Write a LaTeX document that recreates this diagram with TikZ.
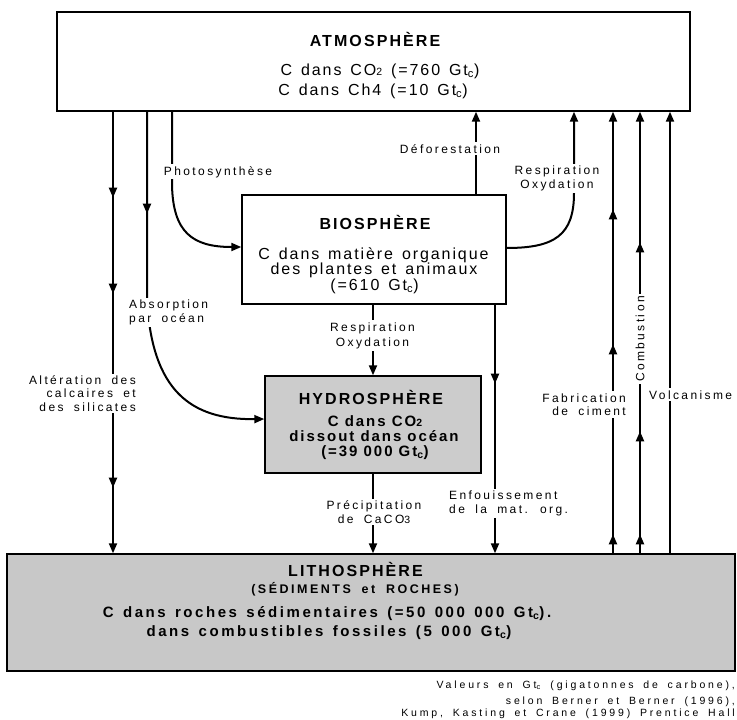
\documentclass[tikz,border=0pt]{standalone}
\usepackage{fontspec}
\setmainfont{Liberation Sans}
\newfontfamily\boxfont[LetterSpace=12,WordSpace=1.4]{Liberation Sans}
\newfontfamily\boxbfont[LetterSpace=13,WordSpace=1.4]{Liberation Sans}
\newfontfamily\litfont[LetterSpace=17,WordSpace=1.4]{Liberation Sans}
\newfontfamily\ttlfont[LetterSpace=13]{Liberation Sans}
\newfontfamily\subfont[LetterSpace=20,WordSpace=1.5]{Liberation Sans}
\newfontfamily\labfont[LetterSpace=20,WordSpace=1.8]{Liberation Sans}
\newfontfamily\capfont[LetterSpace=27,WordSpace=1.7]{Liberation Sans}
\usetikzlibrary{arrows.meta,decorations.markings}
\definecolor{hydgray}{RGB}{204,204,204}
\definecolor{litgray}{RGB}{200,200,200}
\newcommand{\smd}[1]{{\fontsize{10.5}{10}\selectfont #1}}
\tikzset{
  box/.style={draw=black, line width=1.4pt, inner sep=0pt},
  ttl/.style={anchor=base, inner sep=0pt, font=\ttlfont\bfseries\fontsize{16}{18}\selectfont},
  subttl/.style={anchor=base, inner sep=0pt, font=\subfont\bfseries\fontsize{12.5}{14}\selectfont},
  txt/.style={anchor=base, inner sep=0pt, font=\boxfont\fontsize{16}{18}\selectfont},
  txtb/.style={anchor=base, inner sep=0pt, font=\boxbfont\bfseries\fontsize{15}{17}\selectfont},
  txtl/.style={anchor=base, inner sep=0pt, font=\litfont\bfseries\fontsize{15}{17}\selectfont},
  lab/.style={fill=white, inner sep=2pt, font=\labfont\fontsize{12}{13.5}\selectfont},
  capt/.style={anchor=base east, inner sep=0pt, font=\capfont\fontsize{10.5}{12}\selectfont},
  tip/.tip={Triangle[length=10pt,width=8pt]},
  flow/.style={line width=2pt, -tip},
}
\begin{document}
\begin{tikzpicture}[x=1pt,y=-1pt]
\path[use as bounding box] (0,0) rectangle (737,720);

% boxes
\node[box, fill=white, minimum width=633pt, minimum height=99pt] (atm) at (373.5,61.5) {};
\node[box, fill=white, minimum width=264pt, minimum height=109pt] (bio) at (374,249.5) {};
\node[box, fill=hydgray, minimum width=216pt, minimum height=97pt] (hyd) at (373,424.5) {};
\node[box, fill=litgray, minimum width=728pt, minimum height=117pt] (lit) at (371,612.5) {};

% texts in boxes
\node[ttl] (atmT) at (375,46) {ATMOSPHÈRE};
\node[txt] (atm1) at (380,75) {C dans CO\smd{2} (=760 Gt\textsubscript{c})};
\node[txt] (atm2) at (373,95) {C dans Ch4 (=10 Gt\textsubscript{c})};

\node[ttl] (bioT) at (375,229) {BIOSPHÈRE};
\node[txt] (bio1) at (373.5,259) {C dans matière organique};
\node[txt] (bio2) at (374,274) {des plantes et animaux};
\node[txt] (bio3) at (374.5,290) {(=610 Gt\textsubscript{c})};

\node[ttl] (hydT) at (371,404) {HYDROSPHÈRE};
\node[txtb] (hyd1) at (375,426) {C dans CO\smd{2}};
\node[txtb] (hyd2) at (374,441) {dissout dans océan};
\node[txtb] (hyd3) at (375,456) {(=39 000 Gt\textsubscript{c})};

\node[ttl] (litT) at (355.5,576) {LITHOSPHÈRE};
\node[subttl] (litS) at (355,593) {(SÉDIMENTS et ROCHES)};
\node[txtl] (lit1) at (327,617) {C dans roches sédimentaires (=50 000 000 Gt\textsubscript{c}).};
\node[txtl] (lit2) at (329,636) {dans combustibles fossiles (5 000 Gt\textsubscript{c})};

% x positions of connectors
\coordinate (xa) at (113,0);
\coordinate (xb) at (147,0);
\coordinate (xc) at (172,0);
\coordinate (xm) at (373,0);
\coordinate (xd) at (476,0);
\coordinate (xe) at (495,0);
\coordinate (xr) at (574,0);
\coordinate (xf) at (613,0);
\coordinate (xk) at (640,0);
\coordinate (xv) at (670,0);
\coordinate (pb1) at (147,300);
\coordinate (pc1) at (172,185);
\coordinate (pr1) at (574,193);

% connectors
\draw[flow, postaction=decorate, decoration={markings,
  mark=at position 86pt with {\arrow{tip}},
  mark=at position 182pt with {\arrow{tip}},
  mark=at position 376pt with {\arrow{tip}}}]
  (atm.south -| xa) -- (lit.north -| xa);
\draw[flow, postaction=decorate, decoration={markings,
  mark=at position 102pt with {\arrow{tip}}}]
  (atm.south -| xb) -- (pb1) .. controls (152,390) and (190,420) .. ([yshift=5.5pt]hyd.west);
\draw[flow] (atm.south -| xc) -- (pc1) .. controls (173,232) and (192,247) .. ([yshift=2.5pt]bio.west);
\draw[flow] (bio.north -| xd) -- (atm.south -| xd);
\draw[flow] ([yshift=1.5pt]bio.east) .. controls (555,248) and (574,235) .. (pr1) -- (atm.south -| xr);
\draw[flow] (bio.south -| xm) -- (hyd.north -| xm);
\draw[flow] (hyd.south -| xm) -- (lit.north -| xm);
\draw[flow, postaction=decorate, decoration={markings,
  mark=at position 79pt with {\arrow{tip}}}]
  (bio.south -| xe) -- (lit.north -| xe);
\draw[flow, postaction=decorate, decoration={markings,
  mark=at position 19pt with {\arrow{tip}},
  mark=at position 209pt with {\arrow{tip}},
  mark=at position 344pt with {\arrow{tip}}}]
  (lit.north -| xf) -- (atm.south -| xf);
\draw[flow, postaction=decorate, decoration={markings,
  mark=at position 19pt with {\arrow{tip}},
  mark=at position 122pt with {\arrow{tip}},
  mark=at position 311pt with {\arrow{tip}}}]
  (lit.north -| xk) -- (atm.south -| xk);
\draw[flow] (lit.north -| xv) -- (atm.south -| xv);

% labels
\node[lab, anchor=base] (lphoto) at (218,175) {Photosynthèse};
\node[lab, anchor=base] (ldefor) at (450,153) {Déforestation};
\node[lab, align=center] (lresp1) at (557,178.5) {Respiration\\Oxydation};
\node[lab, align=center, font=\labfont\fontsize{12}{15}\selectfont] (lresp2) at (372.5,335.5) {Respiration\\Oxydation};
\node[lab, align=left, anchor=west] (labs) at (127,312.5) {Absorption\\par océan};
\node[lab, align=right, anchor=east] (lalt) at (138,393.5) {Altération des\\calcaires et\\des silicates};
\node[lab, align=center] (lprec) at (374,512) {Précipitation\\de CaCO\smd{3}};
\node[lab, align=left, anchor=west] (lenf) at (447,503.5) {Enfouissement\\de la mat. org.};
\node[lab, align=right, anchor=east] (lfab) at (628,404.5) {Fabrication\\de ciment};
\node[lab, anchor=base west] (lvolc) at (647,399) {Volcanisme};
\node[lab, rotate=90] (lcomb) at (640,339) {Combustion};

% caption
\node[capt] (cap1) at (735,688) {Valeurs en Gt\textsubscript{c} (gigatonnes de carbone),};
\node[capt] (cap2) at (735,704) {selon Berner et Berner (1996),};
\node[capt] (cap3) at (735,716) {Kump, Kasting et Crane (1999) Prentice Hall};
\end{tikzpicture}
\end{document}
